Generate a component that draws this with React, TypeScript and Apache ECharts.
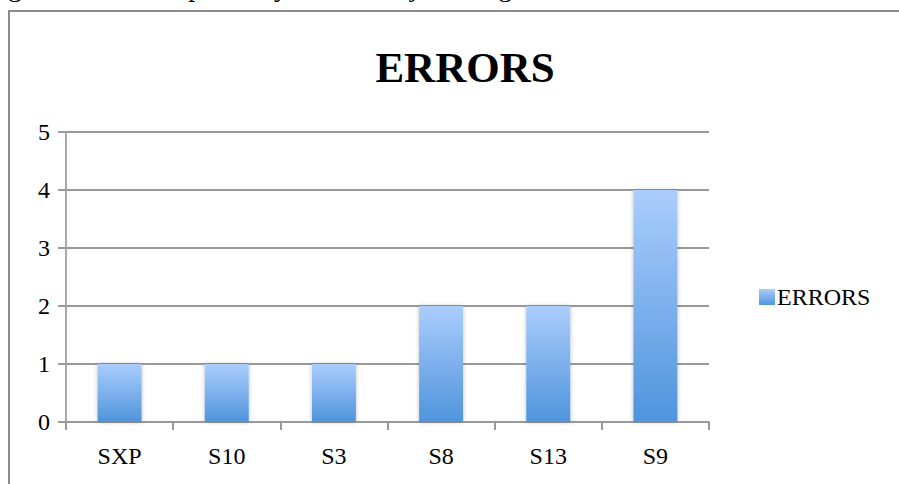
import React, { useEffect, useRef } from "react";
import * as echarts from "echarts";

const categories = ["SXP", "S10", "S3", "S8", "S13", "S9"];
const errors = [1, 1, 1, 2, 2, 4];
const seriesName = "ERRORS";
const titleText = "ERRORS";
const captionText = "g value of error probably due to subject's eagerness to finish the task.";

const FONT = "'Liberation Serif', 'Times New Roman', serif";

export default function App() {
  const ref = useRef<HTMLDivElement>(null);
  useEffect(() => {
    if (!ref.current) return;
    const chart = echarts.init(ref.current, undefined, { renderer: "svg" });
    chart.setOption({
      animation: false,
      backgroundColor: "#ffffff",
      title: {
        text: titleText,
        left: 460,
        top: 41,
        textAlign: "center",
        textStyle: { fontFamily: FONT, fontSize: 43, fontWeight: "bold", color: "#000" },
      },
      legend: {
        data: [seriesName],
        left: 754,
        top: 280,
        itemWidth: 16,
        itemHeight: 16,
        icon: "rect",
        itemGap: 4,
        textStyle: { fontFamily: FONT, fontSize: 24, color: "#000", padding: [0, 0, 0, -3] },
      },
      grid: { left: 66, right: 190, top: 132, bottom: 62, containLabel: false },
      xAxis: {
        type: "category",
        data: categories,
        boundaryGap: true,
        axisLine: { lineStyle: { color: "#999", width: 2 } },
        axisTick: { show: true, alignWithLabel: false, length: 8, lineStyle: { color: "#999", width: 2 } },
        axisLabel: { fontFamily: FONT, fontSize: 24, color: "#000", margin: 22 },
        splitLine: { show: false },
      },
      yAxis: {
        type: "value",
        min: 0,
        max: 5,
        interval: 1,
        axisLine: { show: true, lineStyle: { color: "#aaa", width: 2 } },
        axisTick: { show: true, length: 8, lineStyle: { color: "#999", width: 2 } },
        axisLabel: { fontFamily: FONT, fontSize: 24, color: "#000", margin: 16 },
        splitLine: { show: true, lineStyle: { color: "#999", width: 2 } },
      },
      series: [
        {
          name: seriesName,
          type: "bar",
          data: errors,
          barWidth: 44,
          itemStyle: {
            color: new echarts.graphic.LinearGradient(0, 0, 0, 1, [
              { offset: 0, color: "#abcdfc" },
              { offset: 1, color: "#4f94dc" },
            ]),
            shadowBlur: 4,
            shadowColor: "rgba(0,0,0,0.25)",
            shadowOffsetX: 0,
            shadowOffsetY: 0,
          },
        },
      ],
      graphic: [
        {
          type: "rect",
          shape: { x: 9, y: 11, width: 1000, height: 1000 },
          style: { fill: "none", stroke: "#8c8c8c", lineWidth: 2 },
          silent: true,
        },
        {
          type: "text",
          x: 8,
          y: -14,
          style: {
            text: captionText,
            font: `28px ${FONT}`,
            fill: "#000",
            verticalAlign: "middle",
            align: "left",
          },
          silent: true,
        },
      ],
    });
    return () => chart.dispose();
  }, []);
  return (
    <div
      ref={ref}
      style={{ position: "fixed", left: 0, top: 0, width: 899, height: 484 }}
    />
  );
}
